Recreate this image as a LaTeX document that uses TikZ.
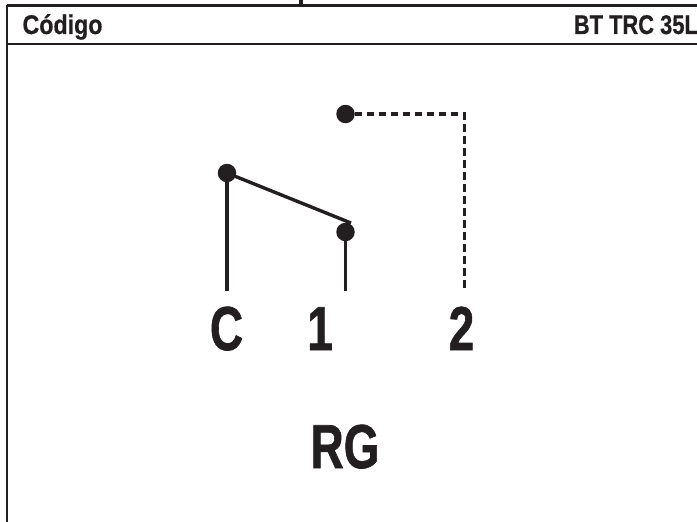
\documentclass[tikz,border=0pt]{standalone}
\usepackage{fontspec}
\setmainfont{Liberation Sans}
\newfontfamily\pinfont[BoldFeatures={FakeBold=1.2}]{Liberation Sans}
\newfontfamily\headfont[BoldFeatures={FakeBold=0.6}]{Liberation Sans}
\usetikzlibrary{positioning}
\definecolor{ink}{HTML}{231F20}
\tikzset{
  contact/.style={circle,fill=ink,minimum size=18.5pt,inner sep=0pt},
  wire/.style={draw=ink,line width=3.4pt},
  dashwire/.style={draw=ink,line width=3.4pt,dash pattern=on 7.5pt off 4.5pt},
  rule/.style={draw=ink,line width=2pt},
  pin/.style={text=ink,inner sep=0pt,anchor=base,xscale=0.74,font=\fontsize{62}{62}\selectfont\pinfont\bfseries},
  head/.style={text=ink,inner sep=0pt,anchor=base,font=\fontsize{27}{27}\selectfont\headfont\bfseries}
}
\begin{document}
\begin{tikzpicture}[x=1pt,y=-1pt,node distance=59pt,on grid]
  \useasboundingbox (0,0) rectangle (697,522);
  \coordinate (topleft) at (7,5);
  \coordinate (topright) at (697,5);
  \coordinate (botleft) at (7,522);
  \coordinate (ruleleft) at (7,44);
  \coordinate (ruleright) at (697,44);
  \coordinate (tickup) at (300.5,0);
  \coordinate (tickdown) at (300.5,5);
  \draw[line width=3pt,draw=ink] (topleft) -- (topright);
  \draw[rule] (topleft) -- (botleft);
  \draw[rule] (ruleleft) -- (ruleright);
  \draw[line width=4pt,draw=ink] (tickup) -- (tickdown);
  \node[head,xscale=0.86] (code) at (62.5,34) {Código};
  \node[head,xscale=0.81,anchor=base east] (model) at (698,34) {BT TRC 35L};

  \node[contact] (c)   at (227,173) {};
  \node[contact] (one) [right=118.5pt of c,yshift=-59pt] {};
  \node[contact] (two) [above=118pt of one] {};
  \coordinate (cend)   at (227,291);
  \coordinate (oneend) at (345.5,291);
  \coordinate (twoend) at (464.5,291);
  \coordinate (bend)   at (464.5,114);
  \coordinate (tip)    at (351,223);

  \path[wire] (c) -- (cend);
  \path[wire] (c.center) -- (tip);
  \path[wire] (one) -- (oneend);
  \path[dashwire] (two) -- (bend) -- (twoend);

  \node[pin] (lc)   at (226.5,350) {C};
  \node[pin] (l1)   at (320,350)   {1};
  \node[pin] (l2)   at (461.5,350) {2};
  \node[pin] (lrg)  at (345,468)   {RG};
\end{tikzpicture}
\end{document}
